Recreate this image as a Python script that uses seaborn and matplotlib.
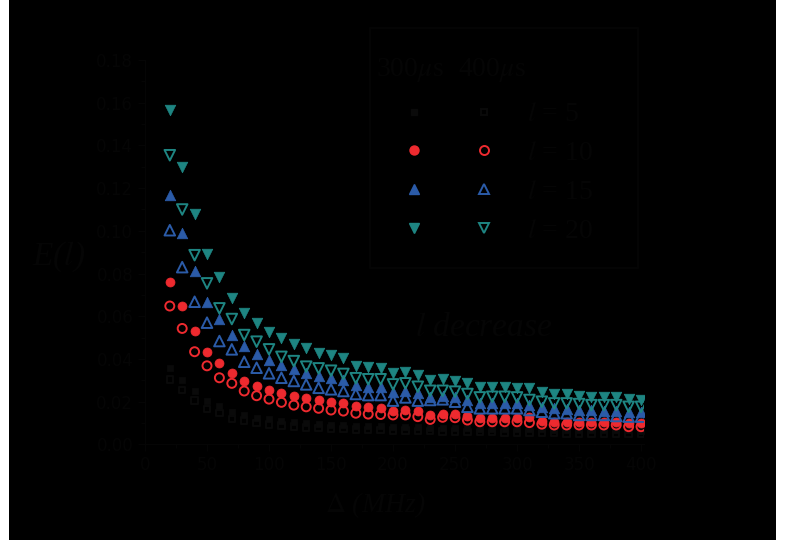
import matplotlib
matplotlib.use("Agg")
import matplotlib.pyplot as plt
import seaborn as sns
from matplotlib.lines import Line2D
from matplotlib.patches import Rectangle
from matplotlib.ticker import MultipleLocator, FormatStrFormatter

# ---------------- data ----------------
detuning = [20, 30, 40, 50, 60, 70, 80, 90, 100, 110, 120, 130, 140, 150, 160, 170, 180, 190, 200,
            210, 220, 230, 240, 250, 260, 270, 280, 290, 300, 310, 320, 330, 340, 350, 360, 370,
            380, 390, 400]

l5_300 = [0.036, 0.030, 0.0248, 0.0205, 0.0178, 0.015, 0.014, 0.0125, 0.0118, 0.011,
          0.0105, 0.010, 0.0097, 0.0093, 0.009, 0.0088, 0.0086, 0.0085, 0.0082, 0.0081,
          0.008, 0.0078, 0.0077, 0.0076, 0.0075, 0.0074, 0.0073, 0.0072, 0.0071, 0.0071,
          0.007, 0.0069, 0.0068, 0.0068, 0.0067, 0.0067, 0.0066, 0.0066, 0.0065]
l5_400 = [0.0305, 0.0255, 0.0205, 0.0165, 0.0146, 0.0118, 0.0111, 0.010, 0.0093, 0.0088,
          0.0084, 0.008, 0.0077, 0.0074, 0.0072, 0.007, 0.0068, 0.0067, 0.0065, 0.0064,
          0.0063, 0.0062, 0.0061, 0.006, 0.0059, 0.0058, 0.0057, 0.0056, 0.0055, 0.0055,
          0.0054, 0.0053, 0.0052, 0.0051, 0.0051, 0.005, 0.005, 0.0049, 0.0048]
l10_300 = [0.0762, 0.0648, 0.0532, 0.0434, 0.038, 0.0333, 0.0297, 0.0273, 0.0255, 0.0239,
           0.0227, 0.0216, 0.0208, 0.020, 0.0195, 0.018, 0.0174, 0.0169, 0.0158, 0.0161,
           0.0158, 0.0138, 0.0142, 0.0142, 0.0133, 0.0122, 0.0122, 0.0122, 0.0122, 0.0127,
           0.0111, 0.0106, 0.0106, 0.0106, 0.0106, 0.0106, 0.0106, 0.0099, 0.0099]
l10_400 = [0.0648, 0.0543, 0.0434, 0.0368, 0.0312, 0.0286, 0.025, 0.0228, 0.0212, 0.0197,
           0.0184, 0.0176, 0.0169, 0.0161, 0.0156, 0.0146, 0.0142, 0.014, 0.0138, 0.0138,
           0.013, 0.0117, 0.0127, 0.0125, 0.0114, 0.0106, 0.0106, 0.0106, 0.0106, 0.0102,
           0.0095, 0.0091, 0.0091, 0.0091, 0.0091, 0.0091, 0.0091, 0.0083, 0.0083]
l15_300 = [0.1167, 0.0988, 0.0813, 0.0668, 0.0585, 0.0512, 0.0462, 0.0423, 0.0395, 0.0372,
           0.0351, 0.0336, 0.032, 0.0312, 0.0301, 0.0278, 0.027, 0.027, 0.0247, 0.0251,
           0.0242, 0.022, 0.0227, 0.022, 0.0208, 0.0195, 0.0195, 0.0195, 0.0195, 0.0184,
           0.0174, 0.0169, 0.0164, 0.0161, 0.0161, 0.0158, 0.0158, 0.0153, 0.0153]
l15_400 = [0.1003, 0.083, 0.0668, 0.057, 0.0484, 0.0445, 0.0387, 0.0359, 0.0333, 0.0312,
           0.0297, 0.0281, 0.0265, 0.0258, 0.025, 0.0236, 0.0231, 0.0231, 0.0205, 0.022,
           0.0205, 0.0208, 0.0211, 0.020, 0.0176, 0.0169, 0.0169, 0.0169, 0.0169, 0.0161,
           0.0153, 0.0146, 0.0146, 0.0138, 0.0138, 0.0138, 0.0133, 0.013, 0.013]
l20_300 = [0.1565, 0.130, 0.108, 0.089, 0.0785, 0.0687, 0.0614, 0.0567, 0.0527, 0.0497,
           0.0468, 0.045, 0.0429, 0.0418, 0.0406, 0.0368, 0.0361, 0.0358, 0.0333, 0.034,
           0.0325, 0.0301, 0.0305, 0.0298, 0.0286, 0.0267, 0.0267, 0.0267, 0.0262, 0.0262,
           0.0244, 0.0236, 0.0236, 0.0227, 0.0223, 0.0223, 0.022, 0.0211, 0.0208]
l20_400 = [0.1354, 0.110, 0.0886, 0.0754, 0.0637, 0.0587, 0.0512, 0.0481, 0.0445, 0.041,
           0.039, 0.0364, 0.0356, 0.0345, 0.033, 0.031, 0.0305, 0.0305, 0.0281, 0.0286,
           0.027, 0.0251, 0.0251, 0.0247, 0.0236, 0.022, 0.0223, 0.0223, 0.022, 0.0208,
           0.020, 0.0192, 0.0192, 0.0189, 0.0184, 0.0184, 0.0184, 0.0176, 0.0176]

l_values = ["5", "10", "15", "20"]
column_titles = ["300$\\mu$s", "400$\\mu$s"]

# ---------------- style ----------------
sns.set_theme(style="ticks")
plt.rcParams["font.family"] = ["DejaVu Sans"]
plt.rcParams["mathtext.fontset"] = "stix"

INK = "#050505"
colors = ["#0a0a0a", "#EE2A2F", "#2B5BA8", "#1E8582"]
markers = ["s", "o", "^", "v"]
sizes = [22, 42, 58, 58]

fig = plt.figure(figsize=(7.9, 5.4), dpi=100)
fig.patch.set_facecolor("black")
fig.patches.append(Rectangle((0, 0), 9 / 790, 1, transform=fig.transFigure,
                             facecolor="white", edgecolor="none", zorder=-5))
fig.patches.append(Rectangle((776 / 790, 0), 14 / 790, 1, transform=fig.transFigure,
                             facecolor="white", edgecolor="none", zorder=-5))
# legend frame box
fig.patches.append(Rectangle((370 / 790, 1 - 268 / 540), 268 / 790, 240 / 540,
                             transform=fig.transFigure, facecolor="none",
                             edgecolor=INK, linewidth=1.2, zorder=5))

ax = fig.add_axes([145 / 790, 1 - 444.4 / 540, 498.5 / 790, 384.4 / 540])
ax.set_facecolor("black")

filled = [l5_300, l10_300, l15_300, l20_300]
opened = [l5_400, l10_400, l15_400, l20_400]

for vals, m, c, s in zip(filled, markers, colors, sizes):
    sns.scatterplot(x=detuning, y=vals, marker=m, s=s, color=c, edgecolor=c,
                    linewidth=0.5, ax=ax, zorder=3)
for vals, m, c, s in zip(opened, markers, colors, sizes):
    sns.scatterplot(x=detuning, y=vals, marker=m, s=s, color=c, facecolor="none",
                    edgecolor=c, linewidth=1.4, ax=ax, zorder=3)

ax.set_xlim(0, 402)
ax.set_ylim(0, 0.18)
ax.xaxis.set_major_locator(MultipleLocator(50))
ax.xaxis.set_minor_locator(MultipleLocator(25))
ax.yaxis.set_major_locator(MultipleLocator(0.02))
ax.yaxis.set_minor_locator(MultipleLocator(0.01))
ax.yaxis.set_major_formatter(FormatStrFormatter("%.2f"))
ax.tick_params(which="both", direction="out", color=INK, labelcolor=INK, labelsize=12)
ax.tick_params(which="major", length=5, width=1)
ax.tick_params(which="minor", length=3, width=1)
for side in ["top", "right"]:
    ax.spines[side].set_visible(False)
for side in ["left", "bottom"]:
    ax.spines[side].set_color(INK)
    ax.spines[side].set_linewidth(1)

ax.set_xlabel("$\\Delta$ (MHz)", fontsize=20, color=INK, family="Liberation Serif",
              style="italic", va="center")
ax.xaxis.set_label_coords(0.461, -0.158)
ax.set_ylabel("E($l$)", fontsize=24, color=INK, family="Liberation Serif",
              style="italic", rotation=0, ha="center", va="center")
ax.yaxis.set_label_coords(-0.1725, 0.4875)

ax.text((484 - 145) / 498.5, (444.4 - 328) / 384.4, "$l$ decrease", transform=ax.transAxes,
        fontsize=24, color=INK, family="Liberation Serif", style="italic",
        ha="center", va="center")

# column titles of the legend
for title, cx in zip(column_titles, [410, 492]):
    fig.text(cx / 790, 1 - 70 / 540, title, fontsize=20, color=INK,
             family="Liberation Serif", ha="center", va="center")

# ---------------- legend ----------------
handles = []
labels = []
for m, c, s in zip(markers, colors, sizes):
    handles.append(Line2D([], [], ls="", marker=m, markersize=s ** 0.5, color=c,
                          markerfacecolor=c, markeredgecolor=c))
    labels.append("")
for lv, m, c, s in zip(l_values, markers, colors, sizes):
    handles.append(Line2D([], [], ls="", marker=m, markersize=s ** 0.5, color=c,
                          markerfacecolor="none", markeredgecolor=c, markeredgewidth=1.4))
    labels.append("$l$ = " + lv)

leg = ax.legend(handles, labels, ncol=2, loc="upper left",
                bbox_to_anchor=(393 / 790, 1 - 102 / 540), bbox_transform=fig.transFigure,
                borderaxespad=0, frameon=False,
                prop={"family": "Liberation Serif", "size": 20},
                handlelength=1.5, handletextpad=0.8,
                columnspacing=0.22, labelspacing=0.48, borderpad=0)
for t in leg.get_texts():
    t.set_color(INK)

fig.savefig("out.png", dpi=100, facecolor=fig.get_facecolor())
